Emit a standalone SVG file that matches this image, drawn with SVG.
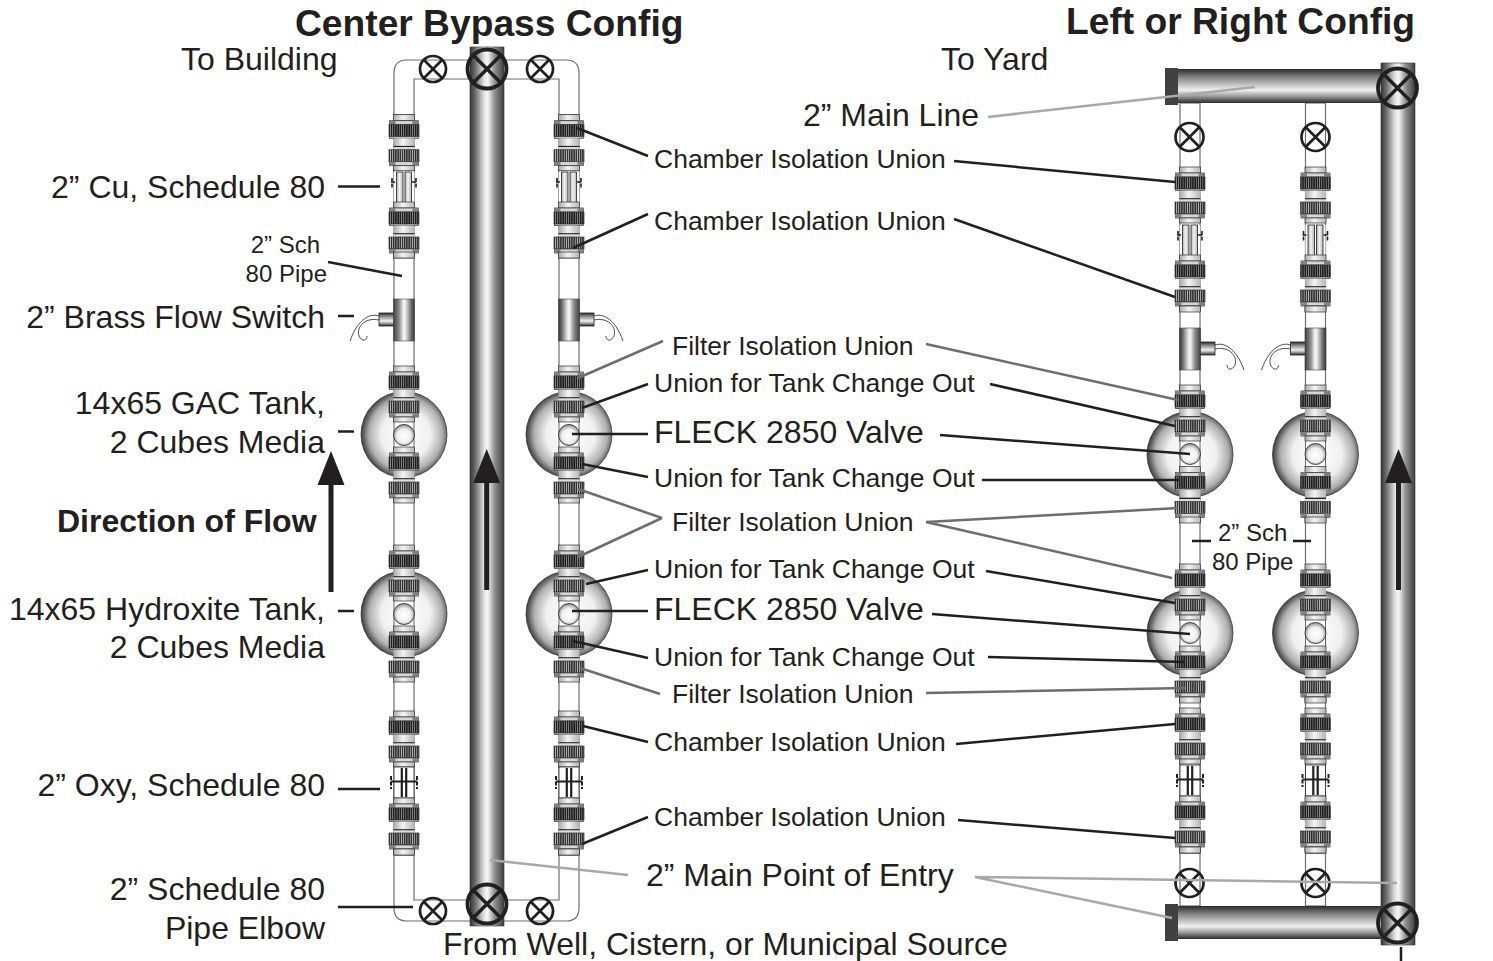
<svg xmlns="http://www.w3.org/2000/svg" width="1493" height="961" viewBox="0 0 1493 961">
<style>
text{font-family:"Liberation Sans",Arial,sans-serif;fill:#231f20;font-size:26.5px}
.h{font-size:37.2px;font-weight:bold}
.l{font-size:32px}
.s{font-size:24px}
.e{text-anchor:end}
.c{fill:none;stroke-linecap:butt}
.d{stroke:#231f20;stroke-width:2.5}
.g1{stroke:#6d6e71;stroke-width:2.5}
.g2{stroke:#a7a9ac;stroke-width:2.5}
.p{fill:#fff;stroke:#6d6e71;stroke-width:1.2}
.v{fill:none;stroke:#231f20;stroke-width:2.7}
.w{fill:none;stroke:#231f20;stroke-width:.8}
.o{stroke:#333;stroke-width:.7}
</style>
<defs>
<linearGradient id="pipeV"><stop offset="0" stop-color="#333"/><stop offset=".18" stop-color="#777"/><stop offset=".42" stop-color="#e4e5e6"/><stop offset=".52" stop-color="#f6f6f6"/><stop offset=".72" stop-color="#909193"/><stop offset="1" stop-color="#3e3e3e"/></linearGradient>
<linearGradient id="pipeH" x1="0" y1="0" x2="0" y2="1"><stop offset="0" stop-color="#2b2b2b"/><stop offset=".25" stop-color="#858688"/><stop offset=".62" stop-color="#f0f0f0"/><stop offset=".8" stop-color="#9a9b9d"/><stop offset="1" stop-color="#2b2b2b"/></linearGradient>
<linearGradient id="capG"><stop offset="0" stop-color="#a9aaac"/><stop offset=".45" stop-color="#f4f4f4"/><stop offset="1" stop-color="#b4b5b7"/></linearGradient>
<radialGradient id="tank" cx=".52" cy=".5" r=".52"><stop offset="0" stop-color="#fff"/><stop offset=".55" stop-color="#f0f0f1"/><stop offset=".82" stop-color="#aeafb1"/><stop offset="1" stop-color="#3a3a3a"/></radialGradient>
<radialGradient id="ball" cx=".5" cy=".55" r=".55"><stop offset="0" stop-color="#fff"/><stop offset=".6" stop-color="#f0f0f0"/><stop offset="1" stop-color="#8a8b8d"/></radialGradient>
<pattern id="k1" width="2.2" height="12" patternUnits="userSpaceOnUse"><rect width="2.2" height="12" fill="#a8a9ab"/><rect width="1.6" height="12" fill="#1f1c1d"/></pattern>
<pattern id="k2" width="2.2" height="12" patternUnits="userSpaceOnUse"><rect width="2.2" height="12" fill="#bcbdbf"/><rect width="1.4" height="12" fill="#2c2a2b"/></pattern>
<g id="pair">
<rect x="-10.5" y="-16" width="21" height="6" fill="url(#capG)" class="o"/>
<rect x="-14.5" y="-10" width="29" height="4" fill="#d6d6d7" class="o"/><rect x="-14.5" y="-10" width="6" height="4" fill="#808183"/><rect x="8.5" y="-10" width="6" height="4" fill="#808183"/>
<rect x="-15" y="-6" width="30" height="12" fill="url(#k1)" class="o"/>
<rect x="-14.5" y="6" width="29" height="1.6" fill="#ccc" class="o"/>
<rect x="-10.5" y="7.6" width="21" height="9.4" fill="url(#capG)"/><rect x="-10.5" y="15.2" width="21" height="1.3" fill="#231f20"/>
<rect x="-10.5" y="16.5" width="21" height="2.5" fill="#ddd"/>
<rect x="-15" y="19" width="30" height="12" fill="url(#k2)" class="o"/>
<rect x="-14.5" y="31" width="29" height="4" fill="#d6d6d7" class="o"/><rect x="-14.5" y="31" width="6" height="4" fill="#808183"/><rect x="8.5" y="31" width="6" height="4" fill="#808183"/>
<rect x="-10.5" y="35" width="21" height="5" fill="url(#capG)" class="o"/>
</g>
<g id="tailcap"><rect x="-10.5" y="0" width="21" height="6" fill="url(#capG)" class="o"/></g>
<g id="tk">
<circle r="43" fill="url(#tank)" stroke="#3a3a3a" stroke-width=".8"/>
</g>
<g id="bl">
<rect x="-10" y="-20" width="20" height="40" fill="#fff" stroke="#444" stroke-width=".8"/>
<circle r="10.5" fill="url(#ball)" stroke="#333" stroke-width=".9"/>
</g>
<g id="cu">
<rect x="-10" y="0" width="20" height="31" fill="#fff"/>
<rect x="-7.5" y="0" width="6.5" height="31" fill="url(#capG)" stroke="#231f20" stroke-width=".8"/>
<rect x="1" y="0" width="6.5" height="31" fill="url(#capG)" stroke="#231f20" stroke-width=".8"/>
<path d="M-13,10h5M8,10h5M-12,6v10M12,6v10" class="w" style="stroke-width:1.6;stroke-dasharray:4 1.5"/>
</g>
<g id="oxy">
<rect x="-10" y="0" width="20" height="31" fill="#fff" stroke="#231f20" stroke-width=".8"/>
<path d="M-2.2,1v29M2.2,1v29" fill="none" stroke="#231f20" stroke-width="2.2"/>
<path d="M-13,14.500h26" fill="none" stroke="#231f20" stroke-width="2"/>
<path d="M-13,9v13M13,9v13" fill="none" stroke="#231f20" stroke-width="2" stroke-dasharray="4 1.500"/>
</g>
<g id="ts">
<rect x="10" y="14" width="15" height="13" fill="url(#pipeH)" stroke="#231f20" stroke-width=".8"/>
<rect x="-10.500" y="0" width="21" height="42" fill="url(#pipeV)" stroke="#444" stroke-width=".6"/>
<path d="M25,17C33,14 46,19 54,42M25,21C38,18 48,27 45,37C42,43 37,42 37,37" class="w"/>
</g>
<g id="vs"><circle r="13" class="v"/><path d="M-9,-9L9,9M9,-9L-9,9" class="v"/></g>
<g id="vm"><circle r="14" class="v"/><path d="M-10,-10L10,10M10,-10L-10,10" class="v"/></g>
<g id="vb"><circle r="19.500" class="v" style="stroke-width:3.800"/><path d="M-13.500,-13.500L13.500,13.500M13.500,-13.500L-13.500,13.500" class="v" style="stroke-width:3.500"/></g>
<path id="arr" d="M0,0L13.500,34H2.500V141H-2.500V34H-13.500Z" fill="#231f20"/>
<g id="stackA">
<rect x="-10" y="115" width="20" height="740" class="p"/>
<use href="#tk" y="434.500"/><use href="#tk" y="614"/>
<use href="#pair" y="130.700"/><use href="#cu" y="172"/><use href="#pair" y="218"/><use href="#tailcap" y="252"/>
<use href="#bl" y="435"/><use href="#bl" y="614"/>
<use href="#pair" y="382"/><use href="#pair" y="463"/>
<use href="#pair" y="561"/><use href="#pair" y="642"/>
<use href="#pair" y="727"/><use href="#oxy" y="767"/><use href="#pair" y="814"/><use href="#tailcap" y="849"/>
</g>
<g id="stackB">
<rect x="-10" y="168" width="20" height="685" class="p"/>
<use href="#tk" y="454.500"/><use href="#tk" y="633"/>
<use href="#pair" y="183"/><use href="#cu" y="225"/><use href="#pair" y="271"/><use href="#tailcap" y="306"/>
<use href="#bl" y="454"/><use href="#bl" y="633"/>
<use href="#pair" y="401"/><use href="#pair" y="482.500"/><use href="#tailcap" y="517"/>
<use href="#pair" y="580"/><use href="#pair" y="662"/><use href="#tailcap" y="697"/>
<use href="#pair" y="724"/><use href="#oxy" y="765"/><use href="#pair" y="812"/><use href="#tailcap" y="847"/>
</g>
</defs>

<g id="center-bypass">
<path d="M394,115V73Q394,60 407,60H566Q579,60 579,73V115H559V79H414V115Z" class="p"/>
<path d="M394,855V908Q394,921 407,921H566Q579,921 579,908V855H559V900H414V855Z" class="p"/>
<rect id="main-pipe-center" x="470" y="47" width="34" height="879" fill="url(#pipeV)" stroke="#333" stroke-width=".6"/>
<use href="#vs" x="433" y="69"/><use href="#vs" x="540" y="69"/><use href="#vb" x="487" y="69"/>
<use href="#vs" x="433" y="911"/><use href="#vs" x="540" y="911"/><use href="#vb" x="487" y="904"/>
<use href="#arr" x="486.700" y="449"/>
</g>
<g id="column-c1"><use href="#stackA" x="404"/><use href="#ts" transform="translate(404,299) scale(-1,1)"/></g>
<g id="column-c2"><use href="#stackA" x="569"/><use href="#ts" transform="translate(569,299)"/></g>

<g id="left-right-config">
<rect x="1180" y="103" width="20" height="65" class="p"/>
<rect x="1305.500" y="103" width="20" height="65" class="p"/>
<rect x="1180" y="853" width="20" height="53" class="p"/>
<rect x="1305.500" y="853" width="20" height="53" class="p"/>
<rect id="top-line" x="1176" y="69" width="210" height="34" fill="url(#pipeH)"/>
<rect x="1165" y="68" width="13" height="37" fill="#414042"/>
<rect id="bottom-line" x="1176" y="906" width="210" height="33" fill="url(#pipeH)"/>
<rect x="1165" y="904" width="13" height="37" fill="#414042"/>
<rect id="main-pipe-right" x="1381" y="63" width="34" height="882" fill="url(#pipeV)" stroke="#333" stroke-width=".6"/>
<use href="#vm" x="1189.500" y="137"/><use href="#vm" x="1315.500" y="137"/>
<use href="#vm" x="1189.500" y="883"/><use href="#vm" x="1315.500" y="883"/>
<use href="#vb" x="1397.500" y="88"/><use href="#vb" x="1397.500" y="923"/>
<use href="#arr" x="1398.500" y="449"/>
<path d="M1401,947V961" class="c d"/>
</g>
<g id="column-r1"><use href="#stackB" x="1190"/><use href="#ts" transform="translate(1190,328)"/></g>
<g id="column-r2"><use href="#stackB" x="1315.500"/><use href="#ts" transform="translate(1315.500,328) scale(-1,1)"/></g>

<g id="connectors" class="c">
<path class="d" d="M338,186.500H380M328,262L402,276M338,316H354M338,431.500H354M338,611H354M338,789H380M338,907H413"/>
<path class="d" d="M577,128L648,156M573,248L648,214M582,408L648,384M572,434H648M582,464L648,477M586,584L648,570M572,611H648M573,641L648,658M583,726L648,742M582,844L648,817"/>
<path class="g1" d="M663,341L578,378M662,518L578,489M662,518L578,557M660,694L580,668"/>
<path class="g2" d="M490,860L628,875"/>
<path class="g2" d="M988,117L1255,87M975,877L1397,883M975,877L1172,918"/>
<path class="d" d="M954,161L1175,182M954,219L1175,297M990,384L1175,426M940,435L1190,454M982,480H1180M986,571L1175,603M932,614L1190,634M988,657L1185,662M956,744L1175,724M958,820L1175,838M1192,541H1211M1293,541H1311"/>
<path class="g1" d="M926,344L1178,400M926,522L1178,508M926,522L1172,578M926,693L1185,688"/>
</g>

<g id="labels">
<text class="h" x="295" y="36">Center Bypass Config</text>
<text class="h" x="1066" y="34">Left or Right Config</text>
<text class="l" x="181" y="70">To Building</text>
<text class="l" x="941" y="70">To Yard</text>
<text class="l e" x="325" y="198">2” Cu, Schedule 80</text>
<text class="s e" x="320" y="253">2” Sch</text>
<text class="s e" x="327" y="282">80 Pipe</text>
<text class="l e" x="325" y="328">2” Brass Flow Switch</text>
<text class="l e" x="325" y="414">14x65 GAC Tank,</text>
<text class="l e" x="325" y="453">2 Cubes Media</text>
<text class="l" x="57" y="532" font-weight="bold">Direction of Flow</text>
<use href="#arr" x="331" y="451"/>
<text class="l e" x="325" y="620">14x65 Hydroxite Tank,</text>
<text class="l e" x="325" y="658">2 Cubes Media</text>
<text class="l e" x="325" y="796">2” Oxy, Schedule 80</text>
<text class="l e" x="325" y="900">2” Schedule 80</text>
<text class="l e" x="325" y="939">Pipe Elbow</text>
<text x="654" y="168">Chamber Isolation Union</text>
<text x="654" y="230">Chamber Isolation Union</text>
<text x="672" y="355">Filter Isolation Union</text>
<text x="654" y="392">Union for Tank Change Out</text>
<text class="l" x="654" y="443">FLECK 2850 Valve</text>
<text x="654" y="487">Union for Tank Change Out</text>
<text x="672" y="531">Filter Isolation Union</text>
<text x="654" y="578">Union for Tank Change Out</text>
<text class="l" x="654" y="620">FLECK 2850 Valve</text>
<text x="654" y="666">Union for Tank Change Out</text>
<text x="672" y="703">Filter Isolation Union</text>
<text x="654" y="751">Chamber Isolation Union</text>
<text x="654" y="826">Chamber Isolation Union</text>
<text class="l" x="646" y="886">2” Main Point of Entry</text>
<text class="l" x="443" y="955">From Well, Cistern, or Municipal Source</text>
<text class="l" x="803" y="126">2” Main Line</text>
<text class="s" x="1218" y="541">2” Sch</text>
<text class="s" x="1212" y="570">80 Pipe</text>
</g>
</svg>
